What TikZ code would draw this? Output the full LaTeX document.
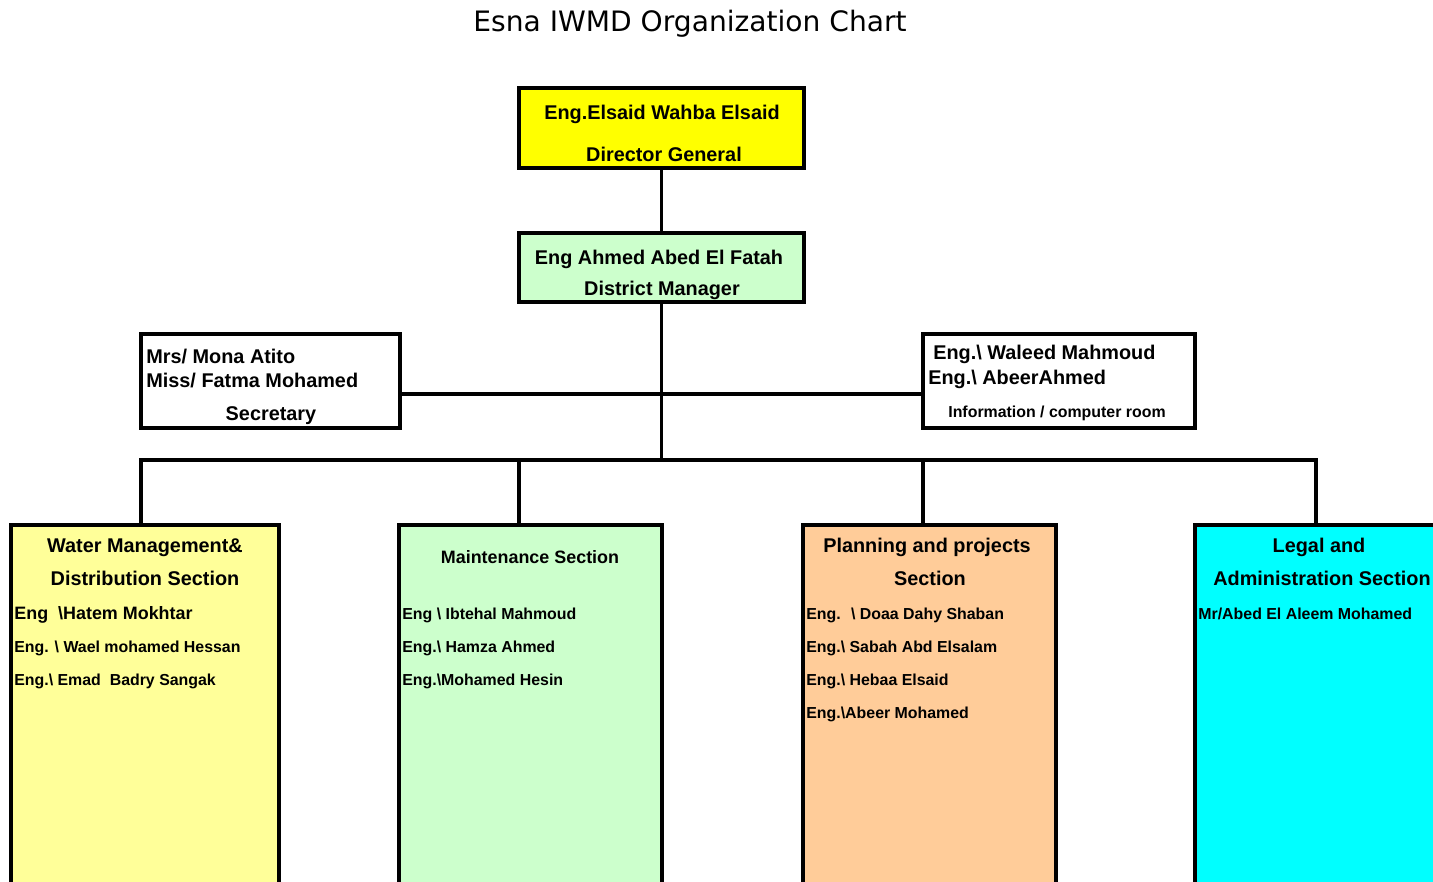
\documentclass[tikz,border=0pt]{standalone}
\usepackage{fontspec}
\setmainfont{Liberation Sans}
\newfontfamily\titlefont{DejaVu Sans}
\definecolor{dgyellow}{HTML}{FFFF00}
\definecolor{palegreen}{HTML}{CCFFCC}
\definecolor{paleyellow}{HTML}{FFFF99}
\definecolor{paleorange}{HTML}{FFCC99}
\definecolor{legalcyan}{HTML}{00FFFF}
\begin{document}
\begin{tikzpicture}[x=0.02cm, y=-0.02cm,
    box/.style={draw, line width=2pt, inner sep=0pt},
    link/.style={line width=2pt},
    big/.style={font=\bfseries\fontsize{11.3}{13}\selectfont, inner sep=0pt},
    mid/.style={font=\bfseries\fontsize{10.2}{12}\selectfont, inner sep=0pt},
    small/.style={font=\bfseries\fontsize{9.05}{11}\selectfont, inner sep=0pt}]
\clip (0,0) rectangle (1433,882);
\node[font=\titlefont\fontsize{16}{19}\selectfont] (title) at (690,24) {Esna IWMD Organization Chart};
% boxes
\node[box, fill=dgyellow, minimum width=5.7cm, minimum height=1.6cm] (dg) at (661.5,128) {};
\node[box, fill=palegreen, minimum width=5.7cm, minimum height=1.38cm] (dm) at (661.5,267.5) {};
\node[box, fill=white, minimum width=5.18cm, minimum height=1.88cm] (sec) at (270.5,381) {};
\node[box, fill=white, minimum width=5.44cm, minimum height=1.88cm] (info) at (1059,381) {};
\node[box, fill=paleyellow, minimum width=5.36cm, minimum height=8cm] (wm) at (145,725) {};
\node[box, fill=palegreen, minimum width=5.26cm, minimum height=8cm] (mt) at (530.5,725) {};
\node[box, fill=paleorange, minimum width=5.06cm, minimum height=8cm] (pl) at (929.5,725) {};
\node[box, fill=legalcyan, minimum width=5.3cm, minimum height=8cm] (lg) at (1327.5,725) {};

% connectors
\coordinate (bus) at (661.5,460);
\coordinate (busl) at (141,460);
\coordinate (busr) at (1316,460);
\coordinate (dmt) at (519,460);
\coordinate (dpl) at (923,460);
\draw[link] (dg.south) -- (dm.north);
\draw[link] (dm.south) -- (bus);
\draw[link] ([yshift=-0.26cm]sec.east) -- ([yshift=-0.26cm]info.west);
\draw[link] (busl |- wm.north) -- (busl) -- (busr) -- (busr |- lg.north);
\draw[link] (dmt) -- (dmt |- mt.north);
\draw[link] (dpl) -- (dpl |- pl.north);

% texts
\node[big, anchor=base] (dg1) at (662,119) {Eng.Elsaid Wahba Elsaid};
\node[big, anchor=base] (dg2) at (664,161) {Director General};
\node[big, anchor=base] (dm1) at (659,264) {Eng Ahmed Abed El Fatah};
\node[big, anchor=base] (dm2) at (662,295) {District Manager};

\node[big, anchor=base west] (sec1) at (146,363) {Mrs/ Mona Atito};
\node[big, anchor=base west] (sec2) at (146,387) {Miss/ Fatma Mohamed};
\node[big, anchor=base] (sec3) at (271,420) {Secretary};

\node[big, anchor=base west] (inf1) at (933,359) {Eng.\textbackslash{} Waleed Mahmoud};
\node[big, anchor=base west] (inf2) at (928,384) {Eng.\textbackslash{} AbeerAhmed};
\node[small, anchor=base] (inf3) at (1057,417) {Information / computer room};

\node[big, anchor=base] (wm1) at (145,552) {Water Management\&};
\node[big, anchor=base] (wm2) at (145,585) {Distribution Section};
\node[mid, anchor=base west] (wm3) at (14,619) {Eng~ \textbackslash Hatem Mokhtar};
\node[small, anchor=base west] (wm4) at (14,652) {Eng. \textbackslash{} Wael mohamed Hessan};
\node[small, anchor=base west] (wm5) at (14,685) {Eng.\textbackslash{} Emad~ Badry Sangak};

\node[mid, anchor=base] (mt1) at (530,563.5) {Maintenance Section};
\node[small, anchor=base west] (mt2) at (402,619) {Eng \textbackslash{} Ibtehal Mahmoud};
\node[small, anchor=base west] (mt3) at (402,652) {Eng.\textbackslash{} Hamza Ahmed};
\node[small, anchor=base west] (mt4) at (402,685) {Eng.\textbackslash Mohamed Hesin};

\node[big, anchor=base] (pl1) at (927,552) {Planning and projects};
\node[big, anchor=base] (pl2) at (930,585) {Section};
\node[small, anchor=base west] (pl3) at (806,619) {Eng.~ \textbackslash{} Doaa Dahy Shaban};
\node[small, anchor=base west] (pl4) at (806,652) {Eng.\textbackslash{} Sabah Abd Elsalam};
\node[small, anchor=base west] (pl5) at (806,685) {Eng.\textbackslash{} Hebaa Elsaid};
\node[small, anchor=base west] (pl6) at (806,718) {Eng.\textbackslash Abeer Mohamed};

\node[big, anchor=base] (lg1) at (1319,552) {Legal and};
\node[big, anchor=base] (lg2) at (1322,585) {Administration Section};
\node[small, anchor=base west] (lg3) at (1198,619) {Mr/Abed El Aleem Mohamed};
\end{tikzpicture}
\end{document}
